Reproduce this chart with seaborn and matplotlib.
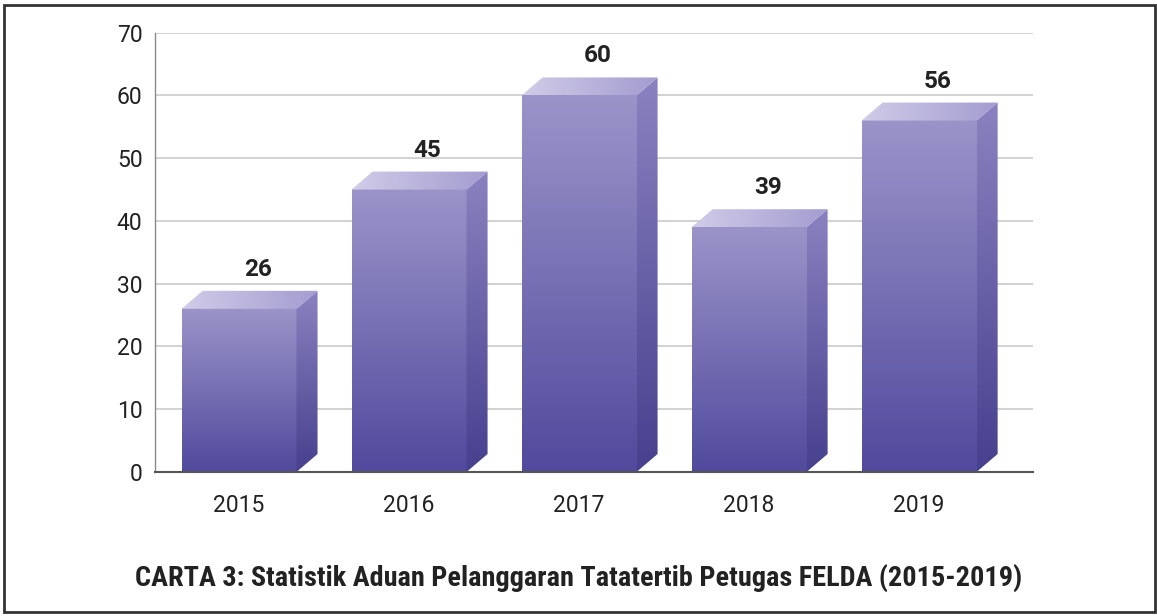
import numpy as np
import pandas as pd
import matplotlib
matplotlib.use('Agg')
import matplotlib.pyplot as plt
import seaborn as sns
from matplotlib.patches import Polygon, Rectangle
from matplotlib.colors import LinearSegmentedColormap

years = ['2015', '2016', '2017', '2018', '2019']
aduan = [26, 45, 60, 39, 56]
title = 'CARTA 3: Statistik Aduan Pelanggaran Tatatertib Petugas FELDA (2015-2019)'

df = pd.DataFrame({'tahun': years, 'aduan': aduan})

sns.set_style('white')
plt.rcParams['font.family'] = ['Roboto', 'DejaVu Sans']

fig = plt.figure(figsize=(11.57, 6.16), dpi=100)
ax = fig.add_axes([155 / 1157, 144 / 616, 878 / 1157, 439.3 / 616])

bar_w = 0.676
sns.barplot(data=df, x='tahun', y='aduan', color='#7a72b8', width=bar_w,
            ax=ax, zorder=2, saturation=1)

# 3d depth in data units
dx = 0.124
dy = 2.87

front_cmap = LinearSegmentedColormap.from_list('front', ['#9b94c9', '#514a9d'])
side_cmap = LinearSegmentedColormap.from_list('side', ['#8b82c0', '#46408e'])
top_cmap = LinearSegmentedColormap.from_list('top', ['#d0cce8', '#a39cd0'])
grad_v = np.linspace(0, 1, 256).reshape(-1, 1)
grad_h = np.linspace(0, 1, 256).reshape(1, -1)

for p, v in zip(list(ax.patches), aduan):
    x0 = p.get_x()
    w = p.get_width()
    h = p.get_height()
    p.set_alpha(0)
    # front face
    ax.imshow(grad_v, cmap=front_cmap, aspect='auto', origin='upper',
              extent=[x0, x0 + w, 0, h], zorder=3)
    # side face
    side = Polygon([[x0 + w, 0], [x0 + w + dx, dy], [x0 + w + dx, h + dy], [x0 + w, h]],
                   closed=True, facecolor='none', edgecolor='none')
    ax.add_patch(side)
    im = ax.imshow(grad_v, cmap=side_cmap, aspect='auto', origin='upper',
                   extent=[x0 + w, x0 + w + dx, 0, h + dy], zorder=3)
    im.set_clip_path(side)
    # top face
    top = Polygon([[x0, h], [x0 + dx, h + dy], [x0 + w + dx, h + dy], [x0 + w, h]],
                  closed=True, facecolor='none', edgecolor='none')
    ax.add_patch(top)
    im = ax.imshow(grad_h, cmap=top_cmap, aspect='auto', origin='upper',
                   extent=[x0, x0 + w + dx, h, h + dy], zorder=3)
    im.set_clip_path(top)
    ax.text(x0 + w / 2 + 0.11, h + 6.3, str(v), ha='center', va='center',
            fontsize=17.5, fontweight='bold', color='#222222', zorder=4)

ax.set_xlim(-0.494, 4.67)
ax.set_ylim(0, 70)
ax.set_yticks(range(0, 71, 10))
ax.set_xticks(np.arange(len(years)))
ax.set_xticklabels(years)
ax.set_xlabel('')
ax.set_ylabel('')
ax.tick_params(axis='both', length=0, labelsize=16.5, colors='#222222')
ax.tick_params(axis='x', pad=16)
ax.tick_params(axis='y', pad=9)
ax.yaxis.grid(True, color='#c6c6c6', linewidth=1.1, zorder=0)
ax.set_axisbelow(True)
for s in ['top', 'right']:
    ax.spines[s].set_visible(False)
ax.spines['left'].set_color('#8a8a8a')
ax.spines['left'].set_linewidth(1.0)
ax.spines['bottom'].set_color('#555555')
ax.spines['bottom'].set_linewidth(1.5)
ax.spines['bottom'].set_zorder(5)

fig.text(579 / 1157, 1 - 578 / 616, title, ha='center', va='center',
         fontsize=20.3, fontweight='bold', color='#222222',
         family=['Roboto Condensed', 'Roboto', 'DejaVu Sans'])

fig.patches.append(Rectangle((4 / 1157, 4 / 616), 1151 / 1157, 607 / 616,
                             transform=fig.transFigure, fill=False,
                             edgecolor='#333333', linewidth=2))

fig.savefig('out.png', dpi=100)
